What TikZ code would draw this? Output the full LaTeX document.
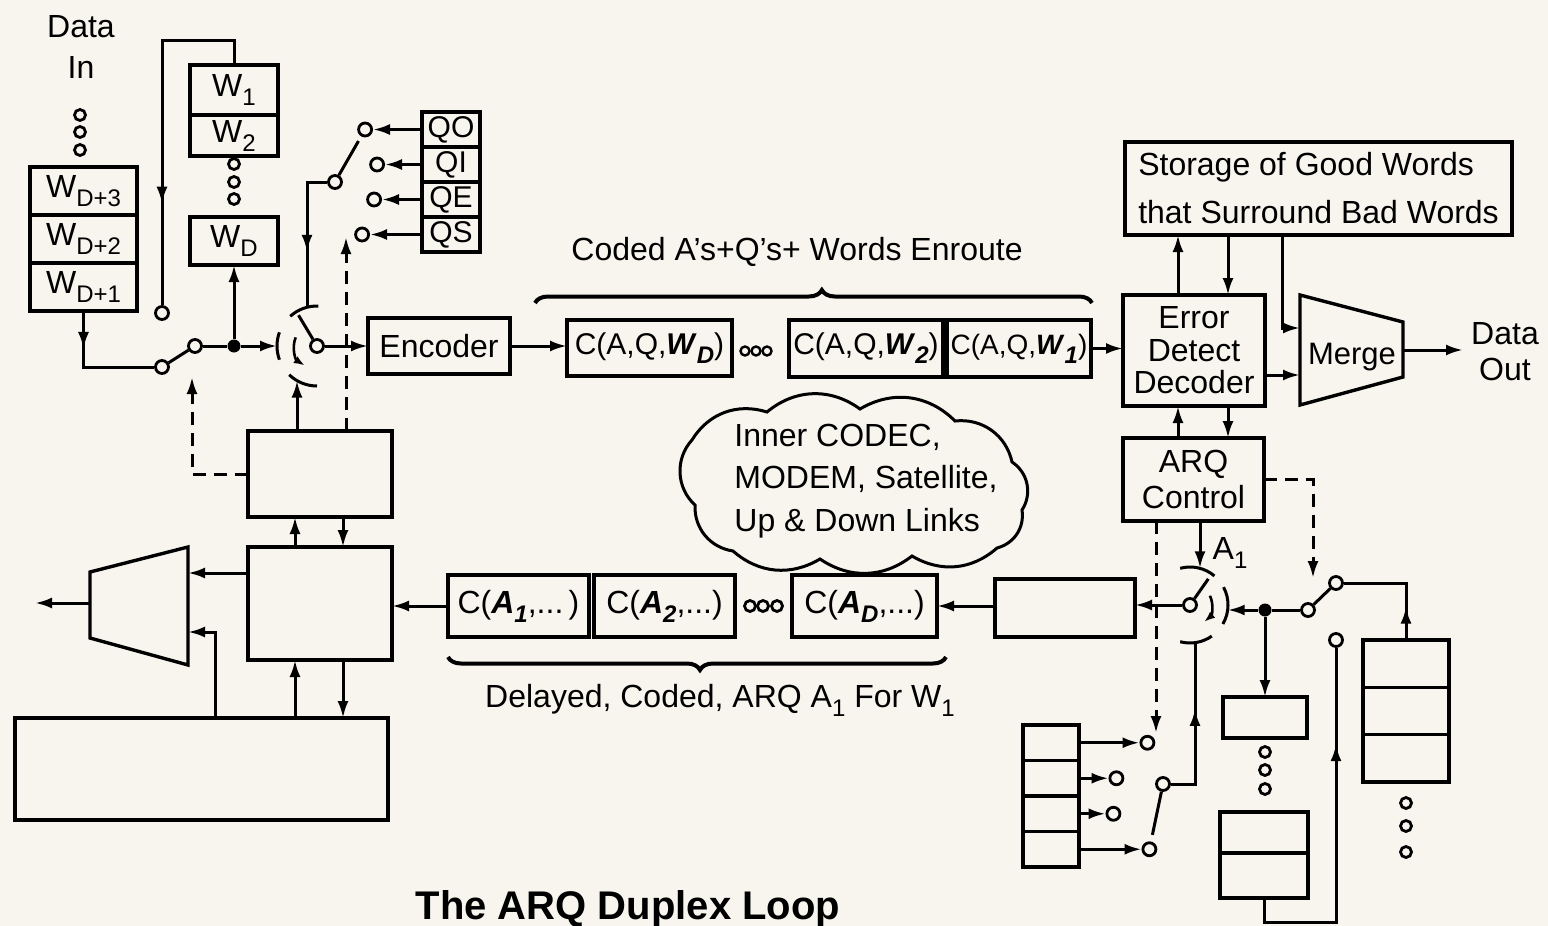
\documentclass[tikz,border=0pt]{standalone}
\usepackage{fontspec}
\setmainfont{Liberation Sans}
\usetikzlibrary{arrows.meta,positioning,calc,decorations.pathreplacing,decorations.markings}
\definecolor{paper}{RGB}{247,245,238}
\newcommand{\wsub}[1]{\raisebox{-9pt}{\fontsize{24}{24}\selectfont #1}}
\newcommand{\bit}[1]{\textbf{\textit{#1}}}
\tikzset{lbl/.style={inner sep=0pt,font=\fontsize{32}{36}\selectfont},
  box/.style={draw,line width=3.4pt,inner sep=0pt,outer sep=0pt,align=center,font=\fontsize{32}{34}\selectfont},
  sz/.style 2 args={minimum width=#1pt,minimum height=#2pt},
  contact/.style={circle,draw,fill=paper,line width=2.8pt,minimum size=13pt,inner sep=0pt},
  jdot/.style={circle,fill,minimum size=13pt,inner sep=0pt},
  odot/.style={circle,draw,line width=2.8pt,minimum size=11pt,inner sep=0pt},
  wire/.style={line width=3pt},
  arrow/.style={wire,-{Latex[length=17pt,width=11pt]}},
  dashline/.style={wire,dash pattern=on 13pt off 8pt},
  darrow/.style={dashline,-{Latex[length=17pt,width=11pt]}},
  midarrow/.style={postaction={decorate},decoration={markings,mark=at position #1 with {\arrow{Latex[length=17pt,width=11pt]}}}},
  brc/.style={line width=4pt,decorate,decoration={brace,amplitude=13pt,aspect=#1}}}

\begin{document}
\begin{tikzpicture}[x=1pt,y=-1pt]
\useasboundingbox (0,0) rectangle (1548,926);
\fill[paper] (0,0) rectangle (1548,926);
% sender: data in and word stores
\node[lbl,align=center,font=\fontsize{32}{41}\selectfont] (datain) at (81,47) {Data\\In};
\foreach \y/\n in {115/1,132/2,150/3} \node[odot] (din\n) at (80,\y) {};
\node[box,sz={107}{48}] (wd3) at (83.5,191) {W\wsub{D+3}};
\node[box,sz={107}{48},below=0pt of wd3] (wd2) {W\wsub{D+2}};
\node[box,sz={107}{48},below=0pt of wd2] (wd1) {W\wsub{D+1}};
\node[box,sz={88}{50}] (w1) at (234,90) {W\wsub{1}};
\node[box,sz={88}{41},below=0pt of w1] (w2) {W\wsub{2}};
\foreach \y/\n in {164/1,182/2,199/3} \node[odot] (wdot\n) at (234,\y) {};
\node[box,sz={88}{48}] (wD) at (234,241) {W\wsub{D}};
\node[contact] (s1a) at (162,313) {};
\node[contact] (s1b) at (162,367) {};
\node[contact] (s1c) at (195,346) {};
\node[jdot] (j1) at (234,346) {};
\node[contact] (s2c) at (317,346) {};
\coordinate (s2l) at (277,346);\coordinate (s2t) at (307,307);\coordinate (s2b) at (297,380.6);
% Q codes
\node[box,sz={58}{35},font=\fontsize{30}{32}\selectfont] (qo) at (451,129.5) {QO};
\node[box,sz={58}{35},font=\fontsize{30}{32}\selectfont,below=0pt of qo] (qi) {QI};
\node[box,sz={58}{35},font=\fontsize{30}{32}\selectfont,below=0pt of qi] (qe) {QE};
\node[box,sz={58}{35},font=\fontsize{30}{32}\selectfont,below=0pt of qe] (qs) {QS};
\node[contact,left=49pt of qo] (qoc) {};
\node[contact,left=37pt of qi] (qic) {};
\node[contact,left=40pt of qe] (qec) {};
\node[contact,left=52pt of qs] (qsc) {};
\node[contact] (qc) at (335,182) {};
\coordinate (qctl) at (346,237);
\node[box,sz={142}{56}] (enc) at (439,346) {Encoder};
% forward channel
\node[box,sz={165}{56},font=\fontsize{30}{32}\selectfont] (cwd) at (649.5,348) {C(A,Q,\bit{W}\wsub{\bit{D}})};
\node[box,sz={154}{57},font=\fontsize{30}{32}\selectfont] (cw2) at (866,348.5) {C(A,Q,\bit{W}\wsub{\bit{2}})};
\node[box,sz={144}{57},font=\fontsize{28}{32}\selectfont,right=4pt of cw2] (cw1) {C(A,Q,\bit{W}\wsub{\bit{1}})};
\foreach \x/\n in {745/1,756/2,767/3} \node[odot,minimum size=9pt,line width=2.4pt] (tdot\n) at (\x,351) {};
\coordinate (bt1) at (535,303);\coordinate (bt2) at (1092,303);
\draw[brc=0.515] (bt1) -- (bt2);
\node[lbl] (enroute) at (797,252) {Coded A's+Q's+ Words Enroute};
% receiver
\node[box,sz={387}{93},align=left,font=\fontsize{32}{48}\selectfont] (stor) at (1318.5,188.5) {Storage of Good Words\\that Surround Bad Words};
\node[box,sz={142}{111},font=\fontsize{32}{32.5}\selectfont] (ed) at (1194,350.5) {Error\\Detect\\Decoder};
\node[box,sz={141}{83},font=\fontsize{32}{36}\selectfont] (arq) at (1193.5,479.5) {ARQ\\Control};
\draw[line width=3.4pt] (1300,295) -- (1403,322) -- (1403,377) -- (1300,405) -- cycle;
\node[lbl,font=\fontsize{31}{36}\selectfont] (merge) at (1352,357) {Merge};
\coordinate (mgin1) at (1300,328);\coordinate (mgin2) at (1300,375);\coordinate (mgout) at (1403,350);
\coordinate (xl) at (1178,0);\coordinate (xr) at (1228,0);\coordinate (mgtap) at (1282,0);
\node[lbl,align=center,font=\fontsize{32}{36}\selectfont,inner xsep=8pt] (dataout) at (1505,352) {Data\\Out};
% the channel cloud
\draw[line width=3pt] (692,440) to[bend left=38] (767,412) to[bend left=38] (860,409) to[bend left=38] (955,421)
  to[bend left=42] (1012,462) to[bend left=45] (1022,510) to[bend left=42] (997,548) to[bend left=36] (912,556)
  to[bend left=36] (820,559) to[bend left=36] (733,551) to[bend left=42] (695,505) to[bend left=45] (692,440);
\node[lbl,align=left,font=\fontsize{32}{42.5}\selectfont] (cloudtxt) at (866,481) {Inner CODEC,\\MODEM, Satellite,\\Up \& Down Links};
% return channel
\node[box,sz={141}{62}] (ca1) at (518.5,606) {C(\bit{A}\wsub{\bit{1}},...\,)};
\node[box,sz={141}{62},right=5pt of ca1] (ca2) {C(\bit{A}\wsub{\bit{2}},...)};
\node[box,sz={145}{62}] (caD) at (864.5,606) {C(\bit{A}\wsub{\bit{D}},...)};
\foreach \x/\n in {750/1,763/2,777/3} \node[odot] (bdot\n) at (\x,606) {};
\node[box,sz={140}{58}] (rdbox) at (1065,608) {};
\coordinate (bb1) at (946,657);\coordinate (bb2) at (448,657);
\draw[brc=0.494] (bb1) -- (bb2);
\node[lbl,anchor=base] (delayed) at (720,707) {Delayed, Coded, ARQ A\wsub{1} For W\wsub{1}};
\node[contact] (s3c) at (1190,605) {};
\coordinate (s3t) at (1200,568.3);\coordinate (s3r) at (1227.7,610);\coordinate (s3b) at (1195,642.7);
\node[lbl] (alab) at (1230,553) {A\wsub{1}};
\node[jdot] (j2) at (1265,610) {};
\node[contact] (s4c) at (1308,610) {};
\node[contact] (s4a) at (1336,583) {};
\node[contact] (s4b) at (1336,640) {};
\coordinate (s4ctl) at (1313,578);\coordinate (l1ctl) at (1156,733);
\node[box,sz={86}{47.3}] (rs1) at (1406,663.6) {};
\node[box,sz={86}{47.3},below=0pt of rs1] (rs2) {};
\node[box,sz={86}{47.3},below=0pt of rs2] (rs3) {};
\foreach \y/\n in {803/1,826/2,852/3} \node[odot] (rdot\n) at (1406,\y) {};
\node[box,sz={84}{41}] (mb1) at (1265,717.5) {};
\foreach \y/\n in {752/1,770/2,789/3} \node[odot] (mdot\n) at (1265,\y) {};
\node[box,sz={88}{41}] (mb2a) at (1264,832.5) {};
\node[box,sz={88}{45},below=0pt of mb2a] (mb2b) {};
\node[box,sz={56}{35.5}] (ll1) at (1051,742.75) {};
\node[box,sz={56}{35.5},below=0pt of ll1] (ll2) {};
\node[box,sz={56}{35.5},below=0pt of ll2] (ll3) {};
\node[box,sz={56}{35.5},below=0pt of ll3] (ll4) {};
\node[contact,right=60.5pt of ll1] (l1c) {};
\node[contact,right=29.5pt of ll2] (l2c) {};
\node[contact,right=26.5pt of ll3] (l3c) {};
\node[contact,right=62.5pt of ll4] (l4c) {};
\node[contact] (s5c) at (1163,784) {};
% sender: retransmit logic
\node[box,sz={144}{86}] (lb1) at (320,474) {};
\node[box,sz={144}{113}] (lb2) at (320,603.5) {};
\node[box,sz={373}{102}] (big) at (201.5,769) {};
\draw[line width=3.4pt] (90,572) -- (188,547) -- (188,665) -- (90,638) -- cycle;
\coordinate (dmin1) at (188,573);\coordinate (dmin2) at (188,632);\coordinate (dmout) at (90,603);\coordinate (dmend) at (35,603);
\coordinate (xa) at (295,0);\coordinate (xb) at (343,0);\coordinate (xd) at (215,0);\coordinate (s1ctl) at (192,377);
\node[lbl,anchor=base,font=\fontsize{40}{40}\selectfont\bfseries] (title) at (628,919) {The ARQ Duplex Loop};
% switches
\draw[wire] (s1c) -- ($(s1c)!0.8!(s1b)$);
\draw[wire] (s2c) ++(160:40pt) arc[start angle=160,end angle=200,radius=40pt];
\draw[wire] (s2c) ++(88:40pt) arc[start angle=88,end angle=132,radius=40pt];
\draw[wire] (s2c) ++(226:40pt) arc[start angle=226,end angle=270,radius=40pt];
\draw[line width=2.6pt,-{Latex[length=11pt,width=8pt]}] (s2c) ++(158:23pt) arc[start angle=158,end angle=238,radius=23pt];
\draw[wire] (s2c.121) -- ++(121:28pt);
\draw[wire] (qc) -- ($(qc)!0.78!(qoc)$);
\draw[wire] (s3c) ++(50:38pt) arc[start angle=50,end angle=105,radius=38pt];
\draw[wire] (s3c) ++(-30:38pt) arc[start angle=-30,end angle=28,radius=38pt];
\draw[wire] (s3c) ++(255:38pt) arc[start angle=255,end angle=305,radius=38pt];
\draw[line width=2.6pt,-{Latex[length=11pt,width=8pt]}] (s3c) ++(25:22pt) arc[start angle=25,end angle=-50,radius=22pt];
\draw[wire] (s3c.55) -- ++(55:24pt);
\draw[wire] (s4c) -- ($(s4c)!0.8!(s4a)$);
\draw[wire] (s5c) -- ($(s5c)!0.78!(l4c)$);
% connectors
\draw[wire,midarrow=0.3] (wd1.south) |- (s1b);
\draw[wire,midarrow=0.72] (w1.north) -- ++(0,-25) -| (s1a);
\draw[wire] (s1c) -- (j1);
\draw[arrow] (j1) -- (s2l);
\draw[arrow] (j1) -- (wD);
\draw[arrow] (s2c) -- (enc);
\foreach \q in {o,i,e,s} \draw[arrow] (q\q) -- (q\q c);
\draw[wire,midarrow=0.62] (qc) -| (s2t);
\draw[arrow] (lb1.north -| s2b) -- (s2b);
\draw[darrow] (lb1.north -| qctl) -- (qctl);
\draw[darrow] (lb1.west) -| (s1ctl);
\draw[arrow] (enc.east) -- (enc.east -| cwd.west);
\draw[arrow] (cw1.east) -- (cw1.east -| ed.west);
\draw[arrow] (ed.north -| xl) -- (stor.south -| xl);
\draw[arrow] (stor.south -| xr) -- (ed.north -| xr);
\draw[arrow] (arq.north -| xl) -- (ed.south -| xl);
\draw[arrow] (ed.south -| xr) -- (arq.north -| xr);
\draw[arrow] (stor.south -| mgtap) |- (mgin1);
\draw[arrow] (ed.east |- mgin2) -- (mgin2);
\draw[arrow] (mgout) -- (dataout.west |- mgout);
\draw[arrow] (arq.south -| s3t) -- (s3t);
\draw[darrow] (arq.south -| l1ctl) -- (l1ctl);
\draw[darrow] (arq.east) -| (s4ctl);
\draw[arrow] (s3c) -- (rdbox.east |- s3c);
\draw[arrow] (rdbox.west |- caD) -- (caD.east);
\draw[arrow] (ca1.west) -- (ca1.west -| lb2.east);
\draw[wire] (s4c) -- (j2);
\draw[arrow] (j2) -- (s3r);
\draw[arrow] (j2) -- (j2 |- mb1.north);
\draw[wire,midarrow=0.28] (rs1.north) |- (s4a);
\draw[wire,midarrow=0.74] (mb2b.south) -- ++(0,24) -| (s4b);
\foreach \n in {1,2,3,4} \draw[arrow] (ll\n) -- (l\n c);
\draw[wire,midarrow=0.6] (s5c) -| (s3b);
\draw[arrow] (lb2.north -| xa) -- (lb1.south -| xa);
\draw[arrow] (lb1.south -| xb) -- (lb2.north -| xb);
\draw[arrow] (big.north -| xa) -- (lb2.south -| xa);
\draw[arrow] (lb2.south -| xb) -- (big.north -| xb);
\draw[arrow] (lb2.west |- dmin1) -- (dmin1);
\draw[arrow] (big.north -| xd) |- (dmin2);
\draw[arrow] (dmout) -- (dmend);
\end{tikzpicture}
\end{document}
